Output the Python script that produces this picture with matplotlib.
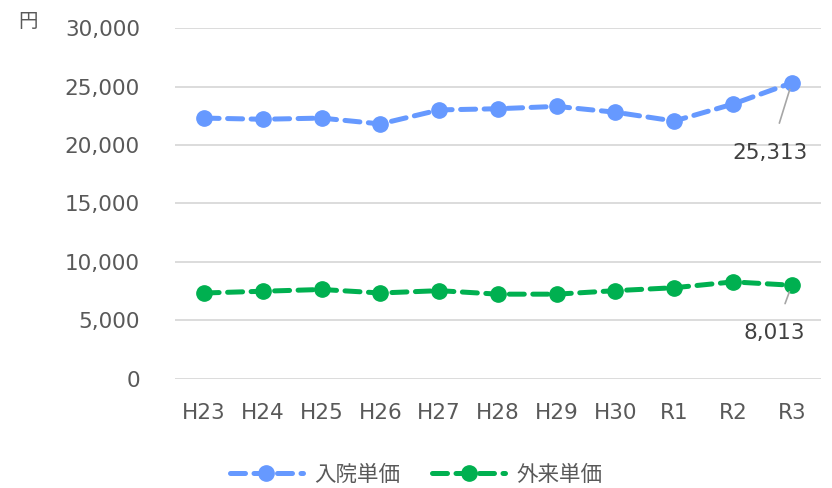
import matplotlib
matplotlib.use("Agg")
import matplotlib.pyplot as plt
from matplotlib.ticker import FuncFormatter

plt.rcParams['font.family'] = ['DejaVu Sans', 'Noto Sans CJK JP']

years = ['H23', 'H24', 'H25', 'H26', 'H27', 'H28', 'H29', 'H30', 'R1', 'R2', 'R3']
inpatient = [22300, 22200, 22300, 21800, 23000, 23100, 23300, 22800, 22050, 23500, 25313]
outpatient = [7350, 7500, 7650, 7350, 7550, 7250, 7250, 7550, 7800, 8300, 8013]

blue = '#6699FF'
green = '#00B050'
txt = '#595959'

fig = plt.figure(figsize=(8.32, 4.88), dpi=100)
ax = fig.add_axes([0.21, 0.2234, 0.777, 0.7192])

x = range(len(years))
ax.plot(x, inpatient, color=blue, lw=3.6, ls=(0, (3.0, 1.7)), marker='o', ms=11,
        label='入院単価', dash_capstyle='round')
ax.plot(x, outpatient, color=green, lw=3.6, ls=(0, (3.0, 1.7)), marker='o', ms=11,
        label='外来単価', dash_capstyle='round')

ax.set_xlim(-0.5, len(years) - 0.5)
ax.set_ylim(0, 30000)
ax.set_yticks(range(0, 30001, 5000))
ax.yaxis.set_major_formatter(FuncFormatter(lambda v, p: f'{int(v):,}'))
ax.set_xticks(list(x))
ax.set_xticklabels(years)
ax.grid(axis='y', color='#D9D9D9', lw=1.3)
ax.set_axisbelow(True)
for s in ax.spines.values():
    s.set_visible(False)
ax.tick_params(length=0, labelsize=15.5, colors=txt)
ax.tick_params(axis='x', pad=17)
ax.tick_params(axis='y', pad=25)

# data labels for last points
ax.annotate(f'{inpatient[-1]:,}', xy=(10, inpatient[-1]), xytext=(9.63, 19300),
            ha='center', va='center', fontsize=15.5, color='#404040',
            arrowprops=dict(arrowstyle='-', color='#A6A6A6', lw=1.2, shrinkA=13, shrinkB=5))
ax.annotate(f'{outpatient[-1]:,}', xy=(10, outpatient[-1]), xytext=(9.7, 3900),
            ha='center', va='center', fontsize=15.5, color='#404040',
            arrowprops=dict(arrowstyle='-', color='#A6A6A6', lw=1.2, shrinkA=13, shrinkB=5))

fig.text(0.022, 0.955, '円', fontsize=14, color=txt, ha='left', va='center')

leg = fig.legend(loc='center', bbox_to_anchor=(0.5, 0.027), ncol=2, frameon=False,
                 fontsize=15.5, handlelength=3.4, columnspacing=1.5, handletextpad=0.5)
for t in leg.get_texts():
    t.set_color(txt)

fig.savefig('out.png', dpi=100)
